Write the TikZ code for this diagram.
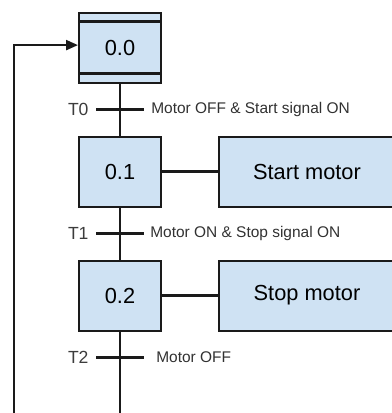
\documentclass[tikz,border=0pt]{standalone}
\usepackage{fontspec}
\setmainfont{Liberation Sans}
\usetikzlibrary{arrows.meta,positioning,calc}
\definecolor{stepblue}{HTML}{CFE2F3}
\definecolor{ink}{HTML}{1A1A1A}

\begin{document}
\begin{tikzpicture}[
 node distance=13mm and 14mm,
 stepbox/.style={draw=ink,line width=0.5mm,fill=stepblue,minimum width=20.5mm,minimum height=17.5mm,font=\fontsize{15.5}{17}\selectfont},
 actbox/.style={draw=ink,line width=0.5mm,fill=stepblue,minimum width=48mm,minimum height=17.5mm,anchor=west,font=\fontsize{15.5}{17}\selectfont},
 link/.style={draw=ink,line width=0.55mm},
 bar/.style={draw=ink,line width=0.75mm},
 tname/.style={inner sep=0pt,font=\fontsize{12.5}{14}\selectfont,text=ink!85},
 cond/.style={inner sep=0pt,font=\fontsize{11}{13}\selectfont,text=ink!90}
]
\useasboundingbox (0,0) rectangle (97.75mm,-103.25mm);
\node[stepbox] (s0) at (30mm,-11.875mm) {0.0};
\node[stepbox,below=of s0] (s1) {0.1};
\node[stepbox,below=of s1] (s2) {0.2};
\node[actbox,right=of s1] (a1) {\hspace*{-4mm}Start motor};
\node[actbox,right=of s2] (a2) {\hspace*{-4mm}Stop motor};
% initial step: double lines
\draw[link] ([yshift=-2.5mm]s0.north west) -- ([yshift=-2.5mm]s0.north east);
\draw[link] ([yshift=2.5mm]s0.south west) -- ([yshift=2.5mm]s0.south east);
% transitions
\coordinate (t0) at ($(s0.south)!0.5!(s1.north)$);
\coordinate (t1) at ($(s1.south)!0.5!(s2.north)$);
\coordinate (t2) at ([yshift=-6.5mm]s2.south);
\coordinate (end) at ([yshift=-21.6mm]s2.south);
\coordinate (back) at (3.5mm,0 |- end);
\draw[link] (s0) -- (s1);
\draw[link] (s1) -- (s2);
\draw[link] (s1) -- (a1);
\draw[link] (s2) -- (a2);
\draw[link,-{Triangle[length=3mm,width=2.5mm]}] (s2.south) -- (end) -- (back) |- ([yshift=0.6mm]s0.west);
\foreach \t/\n/\c/\d in {t0/T0/{Motor OFF \& Start signal ON}/7.75mm,t1/T1/{Motor ON \& Stop signal ON}/7.5mm,t2/T2/{Motor OFF}/9mm} {
  \draw[bar] ([xshift=-5.9mm]\t) -- ([xshift=5.9mm]\t);
  \node[tname,left=7.8mm of \t] (\t-n) {\n};
  \node[cond,right=\d of \t] (\t-c) {\c};
}
\end{tikzpicture}
\end{document}
